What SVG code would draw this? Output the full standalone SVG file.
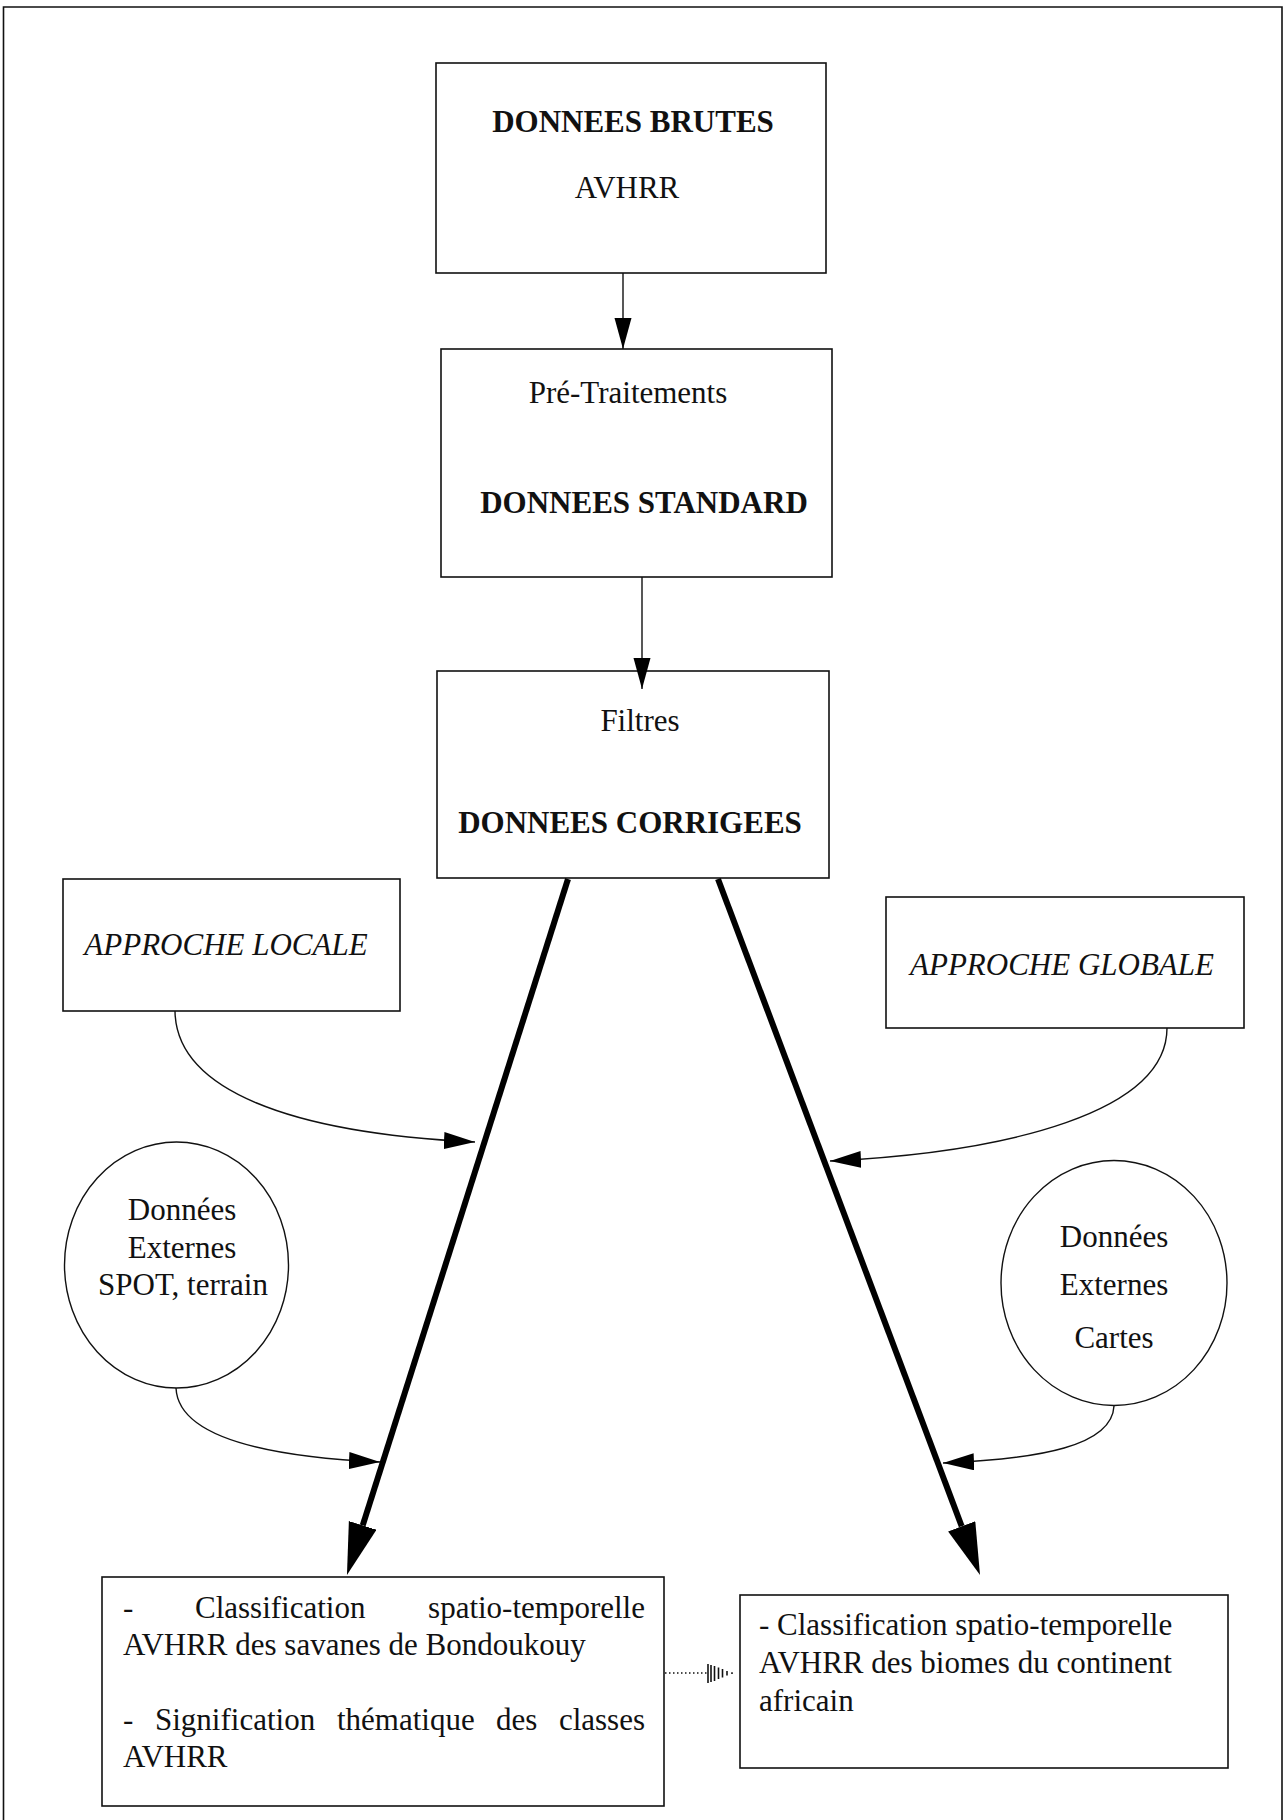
<svg xmlns="http://www.w3.org/2000/svg" width="1285" height="1820" viewBox="0 0 1285 1820">
<style>
  .box { fill: #ffffff; stroke: #111111; stroke-width: 1.6; }
  .ell { fill: #ffffff; stroke: #111111; stroke-width: 1.4; }
  .t { font-family: "Liberation Serif", "Times New Roman", serif; font-size: 31px; fill: #111111; }
  .b { font-weight: bold; }
  .i { font-style: italic; }
  .c { text-anchor: middle; }
  .e { text-anchor: end; }
  .thin { fill: none; stroke: #111111; stroke-width: 1.4; }
  .thick { fill: none; stroke: #000000; stroke-width: 6; }
  .dot { fill: none; stroke: #111111; stroke-width: 1.6; stroke-dasharray: 1.5 2.5; }
  .bar { stroke: #111111; stroke-width: 1.6; }
</style>
<defs>
  <marker id="ah" markerUnits="userSpaceOnUse" markerWidth="32" markerHeight="18" refX="31" refY="8.5" orient="auto">
    <path d="M0,0 L31,8.5 L0,17 Z" fill="#000000"/>
  </marker>
  <marker id="big" markerUnits="userSpaceOnUse" markerWidth="54" markerHeight="30" refX="0" refY="14.5" orient="auto">
    <path d="M0,0 L52,14.5 L0,29 Z" fill="#000000"/>
  </marker>
</defs>

<path d="M3.5,1825 V7 H1282 V1825" fill="none" stroke="#111111" stroke-width="1.6"/>

<g id="node-brutes">
  <rect class="box" x="436" y="63" width="390" height="210"/>
  <text class="t b c" x="633" y="132">DONNEES BRUTES</text>
  <text class="t c" x="627" y="198">AVHRR</text>
</g>

<g id="node-standard">
  <rect class="box" x="441" y="349" width="391" height="228"/>
  <text class="t c" x="628" y="403">Pré-Traitements</text>
  <text class="t b c" x="644" y="513">DONNEES STANDARD</text>
</g>

<g id="node-corrigees">
  <rect class="box" x="437" y="671" width="392" height="207"/>
  <text class="t c" x="640" y="731">Filtres</text>
  <text class="t b c" x="630" y="833">DONNEES CORRIGEES</text>
</g>

<g id="node-approche-locale">
  <rect class="box" x="63" y="879" width="337" height="132"/>
  <text class="t i c" x="226" y="955">APPROCHE LOCALE</text>
</g>

<g id="node-approche-globale">
  <rect class="box" x="886" y="897" width="358" height="131"/>
  <text class="t i c" x="1062" y="975">APPROCHE GLOBALE</text>
</g>

<g id="node-externes-local">
  <ellipse class="ell" cx="176.5" cy="1265" rx="112" ry="123"/>
  <text class="t c" x="182" y="1220">Données</text>
  <text class="t c" x="182" y="1258">Externes</text>
  <text class="t c" x="183" y="1295">SPOT, terrain</text>
</g>

<g id="node-externes-global">
  <ellipse class="ell" cx="1114" cy="1283" rx="113" ry="122.5"/>
  <text class="t c" x="1114" y="1247">Données</text>
  <text class="t c" x="1114" y="1295">Externes</text>
  <text class="t c" x="1114" y="1348">Cartes</text>
</g>

<g id="node-classif-locale">
  <rect class="box" x="102" y="1577" width="562" height="229"/>
  <text class="t" y="1618"><tspan x="123">-</tspan><tspan x="195">Classification</tspan></text>
  <text class="t e" x="645" y="1618">spatio-temporelle</text>
  <text class="t" x="123" y="1655">AVHRR des savanes de Bondoukouy</text>
  <text class="t" y="1730"><tspan x="123">-</tspan><tspan x="155">Signification</tspan><tspan x="337">thématique</tspan><tspan x="496">des</tspan></text>
  <text class="t e" x="645" y="1730">classes</text>
  <text class="t" x="123" y="1767">AVHRR</text>
</g>

<g id="node-classif-globale">
  <rect class="box" x="740" y="1595" width="488" height="173"/>
  <text class="t" x="759" y="1635">- Classification spatio-temporelle</text>
  <text class="t" x="759" y="1673">AVHRR des biomes du continent</text>
  <text class="t" x="759" y="1711">africain</text>
</g>

<g id="connectors">
  <path class="thin" d="M623,273 V349" marker-end="url(#ah)"/>
  <path class="thin" d="M642,577 V689" marker-end="url(#ah)"/>
  <path class="thick" d="M568,879 L362.7,1525.4" marker-end="url(#big)"/>
  <path class="thick" d="M718,879 L961.7,1526.3" marker-end="url(#big)"/>
  <path class="thin" d="M175,1011 C176,1090 290,1133 475,1142" marker-end="url(#ah)"/>
  <path class="thin" d="M1167,1028 C1167,1112 1010,1152 830,1161" marker-end="url(#ah)"/>
  <path class="thin" d="M176,1388 C178,1432 250,1456 380,1462" marker-end="url(#ah)"/>
  <path class="thin" d="M1114,1406 C1112,1446 1040,1459 943,1463" marker-end="url(#ah)"/>
  <path class="dot" d="M665,1673 H707"/>
  <g class="bar">
    <line x1="708" y1="1664" x2="708" y2="1683"/>
    <line x1="711" y1="1665" x2="711" y2="1682"/>
    <line x1="714.5" y1="1666" x2="714.5" y2="1681"/>
    <line x1="718.5" y1="1667.5" x2="718.5" y2="1679"/>
    <line x1="722.5" y1="1669" x2="722.5" y2="1677.5"/>
    <line x1="727" y1="1671" x2="727" y2="1675.5"/>
    <line x1="732" y1="1672.3" x2="732" y2="1674"/>
  </g>
</g>
</svg>
